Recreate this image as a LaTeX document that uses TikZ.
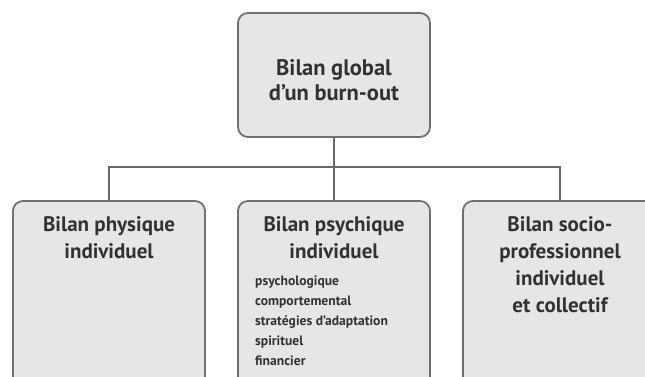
\documentclass[tikz,border=0pt]{standalone}
\usepackage{fontspec}
\setmainfont{PT Sans}
\usetikzlibrary{positioning, calc}
\definecolor{boxfill}{RGB}{230,230,232}
\definecolor{boxline}{RGB}{112,112,112}
\definecolor{linkgray}{RGB}{105,105,105}
\definecolor{textgray}{RGB}{50,50,50}
\tikzset{
  bilan/.style={draw=boxline, line width=1.8pt, fill=boxfill, rounded corners=10pt, inner sep=0pt},
  link/.style={draw=linkgray, line width=1.4pt},
  headtext/.style={text=textgray, font=\bfseries\fontsize{21}{27}\selectfont, align=center, inner sep=0pt},
  listtext/.style={text=textgray, font=\bfseries\fontsize{13.6}{20}\selectfont, align=left, inner sep=0pt}
}
\begin{document}
\begin{tikzpicture}[x=1pt, y=-1pt]
    \useasboundingbox (0,0) rectangle (645,376);
    \clip (0,0) rectangle (645,376);

    % Top box
    \node[bilan, minimum width=192pt, minimum height=124pt] (global) at (334,75) {};
    \node[headtext, font=\bfseries\fontsize{22.5}{25}\selectfont, anchor=north] (globaltxt) at (334,59) {Bilan global\\d'un burn-out};

    % Lower boxes (cut by the bottom edge)
    \node[bilan, minimum width=192pt, minimum height=200pt] (physique) at (109,301) {};
    \node[bilan, minimum width=192pt, minimum height=200pt] (psychique) at (334,301) {};
    \node[bilan, minimum width=194pt, minimum height=200pt] (socio) at (560,301) {};

    % Texts
    \node[headtext, anchor=north] (physiquetxt) at (109,216) {Bilan physique\\individuel};
    \node[headtext, anchor=north] (psychiquetxt) at (334,216) {Bilan psychique\\individuel};
    \node[listtext, anchor=north west] (listtxt) at (255,276) {psychologique\\comportemental\\stratégies d'adaptation\\spirituel\\financier};
    \node[headtext, anchor=north] (sociotxt) at (560,216) {Bilan socio-\\professionnel\\individuel\\et collectif};

    % Connectors
    \coordinate (bus) at (334,167);
    \draw[link] (global.south) -- (psychique.north);
    \draw[link] (physique.north) |- (bus) -| (socio.north);
\end{tikzpicture}
\end{document}
